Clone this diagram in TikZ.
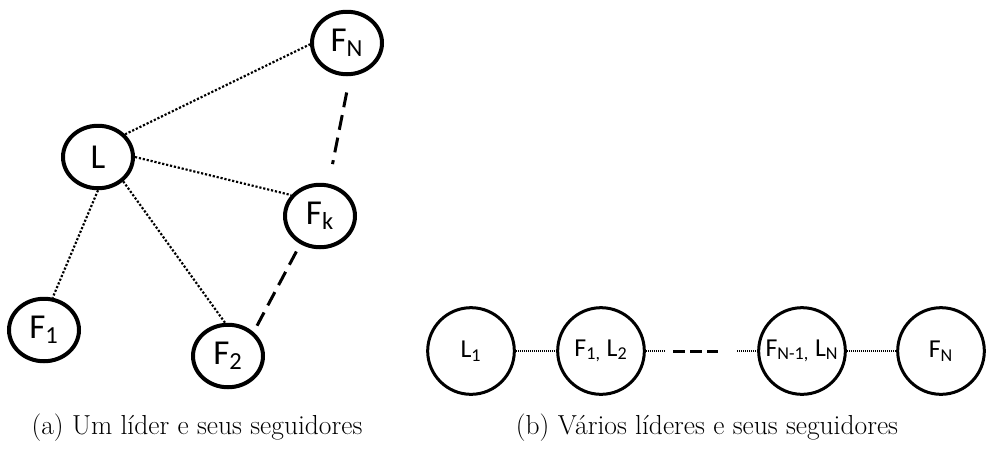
\documentclass[tikz,border=0pt]{standalone}
\usepackage{fontspec}
\setsansfont{Carlito}
\usepackage{tikz}
\usetikzlibrary{shapes.geometric}

\begin{document}
\begin{tikzpicture}[x=0.6pt, y=-0.6pt,
    agent/.style={draw, ellipse, line width=2.4pt, minimum width=42pt, minimum height=37.5pt, inner sep=0pt, font=\sffamily\fontsize{21}{23}\selectfont},
    chain/.style={draw, circle, line width=1.8pt, minimum size=52pt, inner sep=0pt, font=\sffamily\fontsize{15.5}{17}\selectfont},
    link/.style={line width=1.3pt, dash pattern=on 1.3pt off 1.1pt},
    gap/.style={line width=1.8pt, dash pattern=on 9pt off 4.8pt},
    thinlink/.style={line width=0.9pt, dash pattern=on 0.6pt off 0.6pt},
    caption/.style={font=\fontsize{16.5}{19}\selectfont}]
    \useasboundingbox (0,0) rectangle (989,453);

    % (a) one leader
    \node[agent] (FN) at (347, 43) {F\textsubscript{N}};
    \node[agent] (L) at (98, 157) {L};
    \node[agent] (Fk) at (320, 216) {F\textsubscript{k}};
    \node[agent] (F1) at (44, 330) {F\textsubscript{1}};
    \node[agent] (F2) at (228, 356) {F\textsubscript{2}};

    \draw[link] (L.40) -- (FN.182);
    \draw[link] (L.east) -- (Fk.144);
    \draw[link] (L.-90) -- (F1.75);
    \draw[link] (L.-44) -- (F2.95);

    \draw[gap, shorten <=10pt, shorten >=12pt] (FN.-85) -- (Fk.75);
    \draw[gap, shorten <=5pt] (Fk.-125) -- (F2.43);

    % (b) several leaders
    \node[chain] (L1) at (471, 351) {L\textsubscript{1}};
    \node[chain] (F1L2) at (601, 351) {F\textsubscript{1,} L\textsubscript{2}};
    \node[chain] (FNLN) at (802, 351) {F\textsubscript{N-1,} L\textsubscript{N}};
    \node[chain] (FNb) at (941, 351) {F\textsubscript{N}};

    \coordinate (s1) at (665, 351);
    \coordinate (d1) at (673, 351);
    \coordinate (d2) at (718, 351);
    \coordinate (s2) at (737, 351);

    \draw[thinlink] (L1) -- (F1L2);
    \draw[thinlink] (F1L2) -- (s1);
    \draw[line width=1.8pt, dash pattern=on 7.2pt off 3pt] (d1) -- (d2);
    \draw[thinlink] (s2) -- (FNLN);
    \draw[thinlink] (FNLN) -- (FNb);

    % captions
    \node[caption] (capa) at (197, 428) {(a) Um líder e seus seguidores};
    \node[caption] (capb) at (707, 428) {(b) Vários líderes e seus seguidores};
\end{tikzpicture}
\end{document}
